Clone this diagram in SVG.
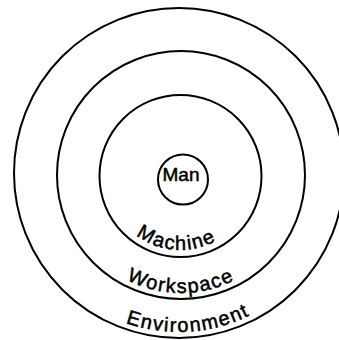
<svg xmlns="http://www.w3.org/2000/svg" xmlns:xlink="http://www.w3.org/1999/xlink" width="339" height="340" viewBox="0 0 339 340">
<style>
.ring{fill:none;stroke:#000;stroke-width:2}
.lbl{font-family:"Liberation Sans","DejaVu Sans",sans-serif;font-size:20px;fill:#000;stroke:#000;stroke-width:0.5;letter-spacing:1.5px}
.man{font-family:"Liberation Sans","DejaVu Sans",sans-serif;font-size:19px;fill:#000;stroke:#000;stroke-width:0.5}
</style>
<defs>
<path id="pMachine" d="M106.5,176 A74,74 0 0 0 254.5,176"/>
<path id="pWorkspace" d="M63,175 A118,118 0 0 0 299,175"/>
<path id="pEnvironment" d="M20,173 A159,159 0 0 0 338,173"/>
</defs>
<rect width="339" height="340" fill="#fff"/>
<g id="environment">
<circle class="ring" cx="179" cy="173" r="165"/>
<text class="lbl"><textPath xlink:href="#pEnvironment" href="#pEnvironment" startOffset="52%" text-anchor="middle">Environment</textPath></text>
</g>
<g id="workspace">
<circle class="ring" cx="181" cy="175" r="124"/>
<text class="lbl"><textPath xlink:href="#pWorkspace" href="#pWorkspace" startOffset="50%" text-anchor="middle">Workspace</textPath></text>
</g>
<g id="machine">
<circle class="ring" cx="180.5" cy="176" r="81"/>
<text class="lbl"><textPath xlink:href="#pMachine" href="#pMachine" startOffset="48%" text-anchor="middle">Machine</textPath></text>
</g>
<g id="man">
<circle class="ring" cx="183" cy="179.5" r="25"/>
<text class="man" x="181" y="181" text-anchor="middle">Man</text>
</g>
</svg>
